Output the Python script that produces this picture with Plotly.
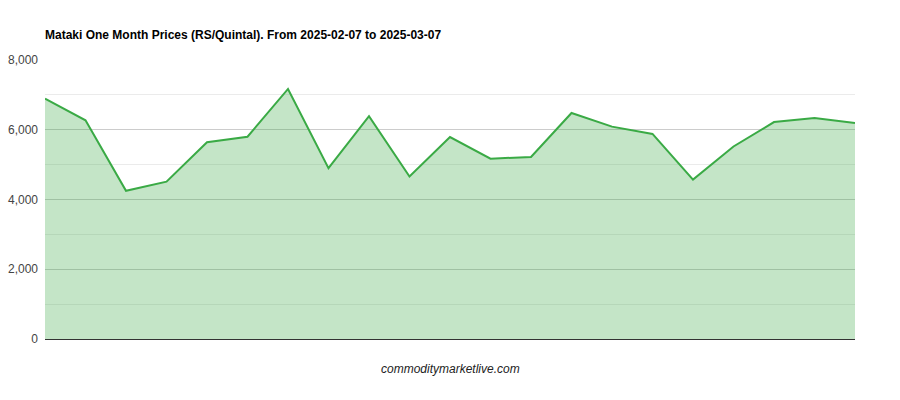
import plotly.graph_objects as go

dates = ["2025-02-07", "2025-02-10", "2025-02-11", "2025-02-12", "2025-02-13", "2025-02-14",
         "2025-02-17", "2025-02-18", "2025-02-19", "2025-02-20", "2025-02-21",
         "2025-02-24", "2025-02-25", "2025-02-26", "2025-02-27", "2025-02-28",
         "2025-03-03", "2025-03-04", "2025-03-05", "2025-03-06", "2025-03-07"]
prices = [6890, 6270, 4250, 4510, 5640, 5800, 7170, 4900, 6390, 4660, 5790,
          5170, 5220, 6480, 6090, 5880, 4570, 5520, 6220, 6340, 6190]

title_text = "Mataki One Month Prices (RS/Quintal). From 2025-02-07 to 2025-03-07"
footer_text = "commoditymarketlive.com"

fig = go.Figure()
fig.add_trace(go.Scatter(
    x=dates, y=prices, mode="lines", fill="tozeroy",
    line=dict(color="#3aaa45", width=2),
    fillcolor="rgba(58,170,69,0.3)",
    hoverinfo="x+y", showlegend=False,
))

fig.update_layout(
    width=900, height=400,
    margin=dict(l=45, r=45, t=60, b=61, autoexpand=False),
    paper_bgcolor="white", plot_bgcolor="white",
    font=dict(family="Liberation Sans, Arial, sans-serif", size=12, color="#444"),
    title=dict(text="<b>" + title_text + "</b>", x=0, xref="paper", xanchor="left",
               y=1 - 35 / 400, yref="container", yanchor="middle",
               font=dict(size=12, color="#000")),
    xaxis=dict(type="category", range=[0, len(dates) - 1], showticklabels=False,
               showgrid=False, zeroline=False, showline=False, ticks="", automargin=False),
    yaxis=dict(range=[0, 8000], dtick=2000, tickformat=",", showgrid=True,
               gridcolor="#cccccc", gridwidth=1, automargin=False,
               minor=dict(dtick=1000, showgrid=True, gridcolor="#ebebeb", gridwidth=1),
               zeroline=True, zerolinecolor="#333333", zerolinewidth=1,
               showline=False, ticks="", ticklabelstandoff=6,
               tickfont=dict(size=12, color="#444")),
    annotations=[dict(text="<i>" + footer_text + "</i>", x=0.5, xref="paper",
                      y=-(369 - 339) / (339 - 60), yref="paper", yanchor="middle",
                      showarrow=False, font=dict(size=12, color="#222"))],
)

fig.write_html("out.html", config={"displayModeBar": False},
               post_script="document.body.style.margin='0';document.body.style.overflow='hidden';")
